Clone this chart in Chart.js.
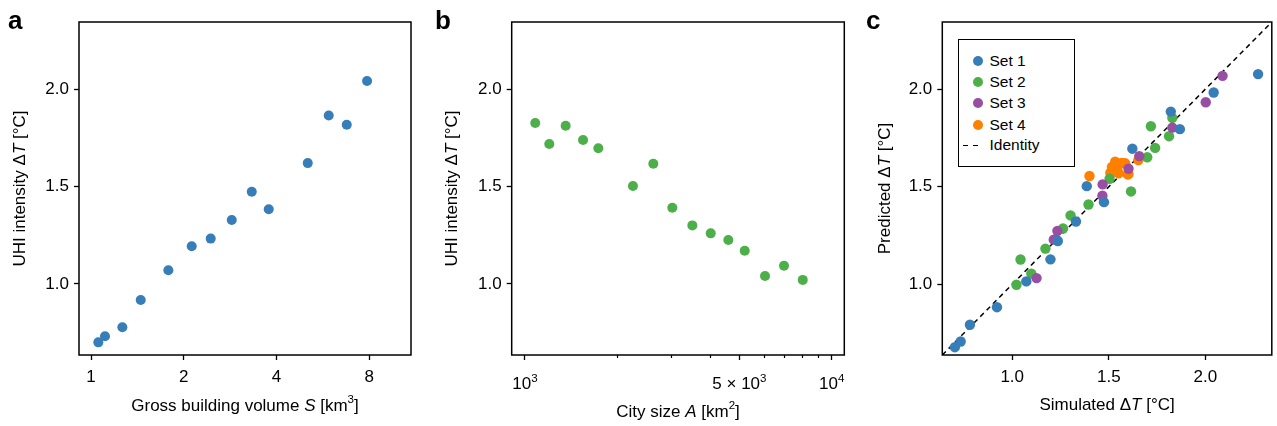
<!DOCTYPE html>
<html>
<head>
<meta charset="utf-8">
<script src="https://cdn.jsdelivr.net/npm/chart.js@4.4.1/dist/chart.umd.min.js"></script>
<style>
  html, body { margin: 0; padding: 0; background: #fff; }
  body { width: 1277px; height: 426px; position: relative; overflow: hidden; font-family: "Liberation Sans", Arial, sans-serif; }
  canvas { position: absolute; top: 0; }
  .plabel { position: absolute; font-weight: bold; font-size: 26px; line-height: 26px; color: #000; }
  #legend { position: absolute; left: 958px; top: 39px; width: 115px; height: 126px; border: 1.5px solid #000; background: #fff; }
  .lrow { position: absolute; left: 0; width: 110px; height: 20px; font-size: 15.5px; line-height: 20px; color: #000; }
  .ldot { position: absolute; left: 13.5px; top: 5px; width: 10px; height: 10px; border-radius: 50%; }
  .ltxt { position: absolute; left: 30.5px; top: 0; white-space: nowrap; }
  .ldash { position: absolute; top: 9.5px; width: 5px; height: 1.5px; background: #000; }
</style>
</head>
<body>
<canvas id="ca" width="425" height="426" style="left:0px"></canvas>
<canvas id="cb" width="425" height="426" style="left:430px"></canvas>
<canvas id="cc" width="417" height="426" style="left:860px"></canvas>
<div class="plabel" style="left:8px;top:7px">a</div>
<div class="plabel" style="left:435px;top:7px">b</div>
<div class="plabel" style="left:866px;top:7px">c</div>
<div id="legend"></div>
<script>
// ---------- data ----------
const uhiTicks = [1.0, 1.5, 2.0];
const volumeTicks = [1, 2, 4, 8];
const areaTicks = [1000, 5000, 10000];
// tick labels for city size: "10^3", "5 × 10^3", "10^4" (base text + superscript exponent)
const areaTickBase = ["10", "5 × 10", "10"];
const areaTickExp = ["3", "3", "4"];
const areaMinorTicks = [2000, 3000, 4000, 6000, 7000, 8000, 9000];
const simTicks = [1.0, 1.5, 2.0];

// panel a: gross building volume S [km3] vs UHI intensity
const aVolume = [1.056, 1.110, 1.264, 1.450, 1.783, 2.123, 2.447, 2.864, 3.326, 3.776, 5.055, 5.914, 6.767, 7.876];
const aUHI    = [0.700, 0.731, 0.778, 0.918, 1.070, 1.194, 1.233, 1.329, 1.474, 1.384, 1.621, 1.866, 1.818, 2.043];

// panel b: city size A [km2] vs UHI intensity
const bArea = [1080, 1200, 1357, 1546, 1734, 2249, 2620, 3022, 3512, 4032, 4602, 5204, 6061, 6989, 8045];
const bUHI  = [1.827, 1.719, 1.813, 1.740, 1.697, 1.503, 1.618, 1.392, 1.301, 1.260, 1.226, 1.171, 1.041, 1.094, 1.021];

// panel c: simulated vs predicted
const set1Sim  = [0.703, 0.733, 0.781, 0.921, 1.073, 1.198, 1.236, 1.330, 1.386, 1.475, 1.622, 1.821, 1.868, 2.043, 2.273];
const set1Pred = [0.678, 0.707, 0.793, 0.883, 1.015, 1.128, 1.222, 1.322, 1.503, 1.421, 1.695, 1.885, 1.795, 1.983, 2.077];
const set2Sim  = [1.022, 1.043, 1.099, 1.172, 1.226, 1.263, 1.302, 1.395, 1.504, 1.615, 1.699, 1.740, 1.718, 1.812, 1.829];
const set2Pred = [0.998, 1.127, 1.055, 1.183, 1.231, 1.286, 1.353, 1.409, 1.541, 1.476, 1.651, 1.699, 1.810, 1.759, 1.853];
const set3Sim  = [1.126, 1.215, 1.234, 1.467, 1.468, 1.602, 1.658, 1.829, 2.002, 2.089];
const set3Pred = [1.032, 1.229, 1.274, 1.454, 1.512, 1.592, 1.657, 1.803, 1.933, 2.068];
const set4Sim  = [1.400, 1.508, 1.516, 1.525, 1.533, 1.545, 1.551, 1.567, 1.585, 1.598, 1.602, 1.653];
const set4Pred = [1.555, 1.572, 1.602, 1.577, 1.628, 1.603, 1.569, 1.622, 1.620, 1.563, 1.565, 1.637];
const identityRange = [0.638, 2.344];

const seriesNames = ["Set 1", "Set 2", "Set 3", "Set 4", "Identity"];
const colors = { blue: "#377eb8", green: "#4daf4a", purple: "#984ea3", orange: "#ff7f00" };

// axis titles as styled text segments (i = italic, s = superscript)
const titleA_x = [{ t: "Gross building volume " }, { t: "S", i: true }, { t: " [km" }, { t: "3", s: true }, { t: "]" }];
const titleB_x = [{ t: "City size " }, { t: "A", i: true }, { t: " [km" }, { t: "2", s: true }, { t: "]" }];
const titleC_x = [{ t: "Simulated Δ" }, { t: "T", i: true }, { t: " [°C]" }];
const titleAB_y = [{ t: "UHI intensity Δ" }, { t: "T", i: true }, { t: " [°C]" }];
const titleC_y = [{ t: "Predicted Δ" }, { t: "T", i: true }, { t: " [°C]" }];

// ---------- helpers ----------
const FONT = "'Liberation Sans', Arial, sans-serif";
const FS = 17;
Chart.defaults.font.family = FONT;
Chart.defaults.color = "#000";

const zip = (xs, ys) => xs.map((x, i) => ({ x: x, y: ys[i] }));

function segFont(seg) {
  return (seg.i ? "italic " : "") + (seg.s ? FS * 0.68 : FS) + "px " + FONT;
}
function drawRich(ctx, segs, cx, cy, rotate) {
  ctx.save();
  ctx.translate(cx, cy);
  if (rotate) ctx.rotate(-Math.PI / 2);
  ctx.fillStyle = "#000";
  ctx.textBaseline = "alphabetic";
  ctx.textAlign = "left";
  let total = 0;
  const widths = segs.map(s => { ctx.font = segFont(s); const w = ctx.measureText(s.t).width; total += w; return w; });
  let x = -total / 2;
  const base = FS * 0.36;
  segs.forEach((s, k) => {
    ctx.font = segFont(s);
    ctx.fillText(s.t, x, s.s ? base - FS * 0.42 : base);
    x += widths[k];
  });
  ctx.restore();
}

const richTitlePlugin = {
  id: "richTitles",
  afterDraw(chart, args, o) {
    if (!o || !o.x) return;
    const a = chart.chartArea;
    drawRich(chart.ctx, o.x, (a.left + a.right) / 2, o.xY, false);
    drawRich(chart.ctx, o.y, o.yX, (a.top + a.bottom) / 2, true);
  }
};

// draws superscripted tick labels at the positions given by the x scale
const richTickPlugin = {
  id: "richTicks",
  afterDraw(chart, args, o) {
    if (!o || !o.values) return;
    const sc = chart.scales.x;
    o.values.forEach((v, k) => {
      drawRich(chart.ctx, [{ t: o.base[k] }, { t: o.exp[k], s: true }], sc.getPixelForValue(v), o.y, false);
    });
  }
};

const framePlugin = {
  id: "frame",
  afterDatasetsDraw(chart) {
    const { ctx, chartArea: a } = chart;
    ctx.save();
    ctx.strokeStyle = "#000";
    ctx.lineWidth = 1.5;
    ctx.strokeRect(a.left, a.top, a.right - a.left, a.bottom - a.top);
    ctx.restore();
  }
};

const minorTickPlugin = {
  id: "minorTicks",
  afterDraw(chart, args, opts) {
    if (!opts || !opts.values) return;
    const sc = chart.scales.x;
    const ctx = chart.ctx;
    const y0 = chart.chartArea.bottom;
    ctx.save();
    ctx.strokeStyle = "#000";
    ctx.lineWidth = 1.2;
    opts.values.forEach(v => {
      const px = Math.round(sc.getPixelForValue(v)) + 0.5;
      ctx.beginPath();
      ctx.moveTo(px, y0);
      ctx.lineTo(px, y0 + 3);
      ctx.stroke();
    });
    ctx.restore();
  }
};

function axisCommon(extra) {
  return Object.assign({
    grid: { display: true, drawOnChartArea: false, drawTicks: true, tickLength: 5, tickColor: "#000", tickWidth: 1.3 },
    border: { display: false },
    title: { display: false }
  }, extra);
}

function yAxis(width, ticksArr, min, max) {
  return axisCommon({
    type: "linear",
    min: min, max: max,
    afterFit(s) { s.width = width; },
    afterBuildTicks(s) { s.ticks = ticksArr.map(v => ({ value: v })); },
    ticks: { font: { size: FS }, color: "#000", padding: 5, callback: v => Number(v).toFixed(1) }
  });
}

function baseOptions(rightPad, scales, extraPlugins) {
  return {
    responsive: false,
    animation: false,
    devicePixelRatio: 1,
    layout: { padding: { left: 0, right: rightPad, top: 22, bottom: 0 } },
    plugins: Object.assign({ legend: { display: false }, tooltip: { enabled: false } }, extraPlugins || {}),
    scales: scales,
    elements: { point: { radius: 5, borderWidth: 0, hoverRadius: 5 } }
  };
}

// ---------- panel a ----------
new Chart(document.getElementById("ca"), {
  type: "scatter",
  data: { datasets: [{ label: "a", data: zip(aVolume, aUHI), backgroundColor: colors.blue, borderColor: colors.blue, pointRadius: 5, borderWidth: 0 }] },
  options: baseOptions(14, {
    x: axisCommon({
      type: "logarithmic", min: 0.914, max: 10.94,
      afterFit(s) { s.height = 71; },
      afterBuildTicks(s) { s.ticks = volumeTicks.map(v => ({ value: v })); },
      ticks: { font: { size: FS }, color: "#000", padding: 7, maxRotation: 0, callback: v => String(v) }
    }),
    y: yAxis(79, uhiTicks, 0.635, 2.346)
  }, { richTitles: { x: titleA_x, xY: 404.5, y: titleAB_y, yX: 19 } }),
  plugins: [framePlugin, richTitlePlugin]
});

// ---------- panel b ----------
new Chart(document.getElementById("cb"), {
  type: "scatter",
  data: { datasets: [{ label: "b", data: zip(bArea, bUHI), backgroundColor: colors.green, borderColor: colors.green, pointRadius: 5, borderWidth: 0 }] },
  options: baseOptions(10.7, {
    x: axisCommon({
      type: "logarithmic", min: 905, max: 10990,
      afterFit(s) { s.height = 71; },
      afterBuildTicks(s) { s.ticks = areaTicks.map(v => ({ value: v })); },
      ticks: { display: false }
    }),
    y: yAxis(81.7, uhiTicks, 0.635, 2.346)
  }, {
    minorTicks: { values: areaMinorTicks },
    richTicks: { values: areaTicks, base: areaTickBase, exp: areaTickExp, y: 383 },
    richTitles: { x: titleB_x, xY: 410.5, y: titleAB_y, yX: 21 }
  }),
  plugins: [framePlugin, minorTickPlugin, richTickPlugin, richTitlePlugin]
});

// ---------- panel c ----------
function pts(label, xs, ys, color, order) {
  return { label: label, type: "scatter", data: zip(xs, ys), backgroundColor: color, borderColor: color, pointRadius: 5.2, borderWidth: 0, order: order };
}
new Chart(document.getElementById("cc"), {
  type: "scatter",
  data: {
    datasets: [
      pts(seriesNames[0], set1Sim, set1Pred, colors.blue, 1),
      pts(seriesNames[1], set2Sim, set2Pred, colors.green, 3),
      pts(seriesNames[2], set3Sim, set3Pred, colors.purple, 2),
      pts(seriesNames[3], set4Sim, set4Pred, colors.orange, 4),
      { label: seriesNames[4], type: "line", data: zip(identityRange, identityRange), borderColor: "#000", borderWidth: 1.5,
        borderDash: [5, 4], pointRadius: 0, fill: false, order: 5 }
    ]
  },
  options: baseOptions(2.7, {
    x: axisCommon({
      type: "linear", min: 0.638, max: 2.344,
      afterFit(s) { s.height = 71; },
      afterBuildTicks(s) { s.ticks = simTicks.map(v => ({ value: v })); },
      ticks: { font: { size: FS }, color: "#000", padding: 7, maxRotation: 0, callback: v => Number(v).toFixed(1) }
    }),
    y: yAxis(82.3, simTicks, 0.638, 2.344)
  }, { richTitles: { x: titleC_x, xY: 403.5, y: titleC_y, yX: 23.5 } }),
  plugins: [framePlugin, richTitlePlugin]
});

// ---------- legend (HTML) ----------
(function () {
  const lg = document.getElementById("legend");
  const rowColors = [colors.blue, colors.green, colors.purple, colors.orange, null];
  const rowCenters = [20.5, 41.8, 63.2, 84.5, 105.2];
  seriesNames.forEach((name, i) => {
    const row = document.createElement("div");
    row.className = "lrow";
    row.style.top = (rowCenters[i] - 10) + "px";
    if (rowColors[i]) {
      const mark = document.createElement("div");
      mark.className = "ldot";
      mark.style.background = rowColors[i];
      row.appendChild(mark);
    } else {
      [3.8, 14].forEach(l => {
        const d = document.createElement("div");
        d.className = "ldash";
        d.style.left = l + "px";
        row.appendChild(d);
      });
    }
    const txt = document.createElement("span");
    txt.className = "ltxt";
    txt.textContent = name;
    row.appendChild(txt);
    lg.appendChild(row);
  });
})();
</script>
</body>
</html>
